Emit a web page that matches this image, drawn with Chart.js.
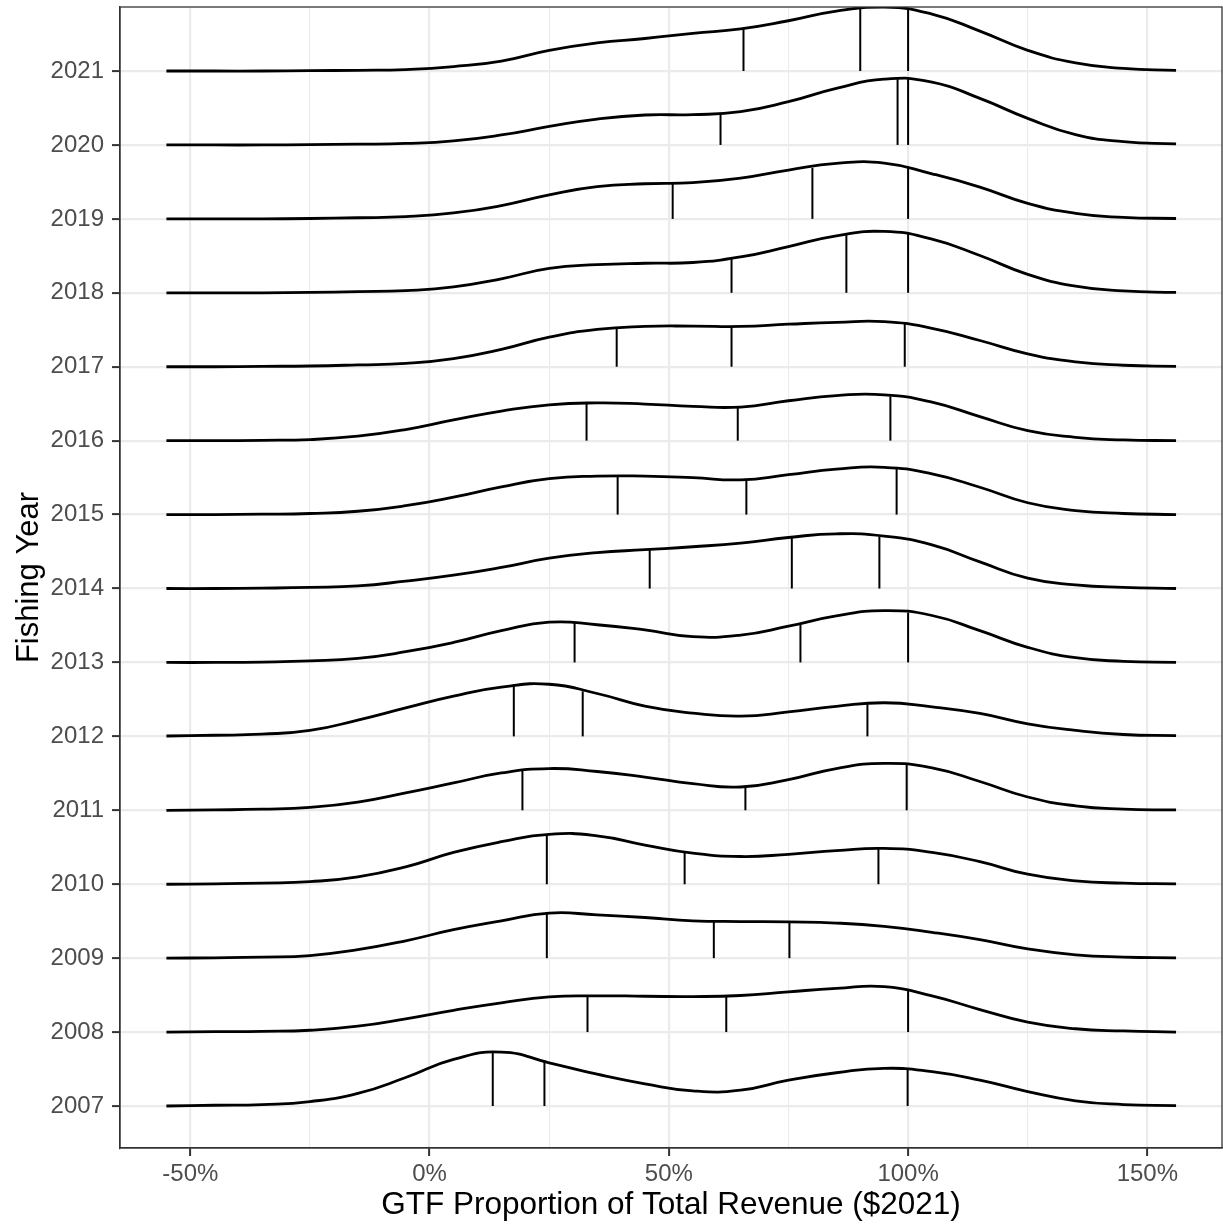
<!DOCTYPE html>
<html>
<head>
<meta charset="utf-8">
<script src="https://cdn.jsdelivr.net/npm/chart.js@4.4.1/dist/chart.umd.min.js"></script>
<style>
  body { margin: 0; background: #fff; }
</style>
</head>
<body>
<canvas id="myChart" width="1223" height="1224"></canvas>
<script>
// GTF share of total revenue, density ridges by fishing year
const years = [2007, 2008, 2009, 2010, 2011, 2012, 2013, 2014, 2015, 2016, 2017, 2018, 2019, 2020, 2021];

// x positions (%) where the density heights were read
const xs = [-55, -45, -35, -25, -15, -5, 5, 15, 25, 35, 45, 55, 65, 75, 85, 95, 105, 115, 125, 135, 145, 156];

// ridge heights (in year units) at the xs above
const r2007 = [0, .01, .02, .06, .17, .385, .63, .73, .585, .43, .3, .205, .215, .35, .45, .51, .465, .35, .195, .07, .02, .005];
const r2008 = [0, .005, .01, .025, .08, .18, .295, .395, .475, .49, .485, .48, .495, .545, .59, .615, .49, .305, .135, .045, .015, 0];
const r2009 = [0, .005, .015, .035, .115, .235, .385, .505, .61, .585, .55, .505, .495, .49, .475, .43, .35, .25, .125, .045, .015, .005];
const r2010 = [0, .005, .015, .035, .1, .235, .43, .575, .675, .655, .53, .42, .375, .405, .455, .485, .43, .305, .135, .045, .015, .005];
const r2011 = [0, .005, .015, .04, .11, .235, .37, .505, .565, .525, .45, .36, .315, .415, .565, .635, .575, .39, .18, .06, .015, .005];
const r2012 = [.005, .015, .03, .08, .22, .385, .545, .665, .705, .58, .41, .315, .275, .33, .405, .455, .4, .31, .17, .08, .025, .01];
const r2013 = [0, 0, .005, .02, .055, .145, .27, .43, .545, .51, .44, .35, .37, .49, .63, .7, .635, .43, .205, .065, .015, 0];
const r2014 = [0, 0, .005, .015, .035, .1, .18, .285, .41, .485, .525, .565, .615, .69, .74, .71, .59, .36, .14, .05, .015, 0];
const r2015 = [0, 0, .005, .015, .045, .12, .235, .375, .485, .52, .52, .5, .47, .54, .615, .64, .55, .37, .16, .055, .015, 0];
const r2016 = [0, 0, .005, .015, .06, .15, .28, .4, .485, .51, .495, .465, .455, .54, .61, .62, .52, .325, .135, .045, .01, 0];
const r2017 = [0, 0, .005, .01, .025, .045, .11, .235, .4, .505, .545, .55, .545, .575, .6, .61, .52, .355, .175, .065, .02, .005];
const r2018 = [0, 0, 0, .005, .015, .03, .08, .19, .33, .38, .4, .41, .485, .625, .77, .83, .725, .505, .25, .09, .025, .005];
const r2019 = [0, 0, 0, .005, .015, .03, .08, .18, .325, .435, .475, .49, .55, .66, .75, .755, .61, .43, .21, .075, .02, .005];
const r2020 = [0, 0, 0, .005, .01, .02, .055, .135, .25, .35, .405, .41, .45, .585, .765, .89, .85, .63, .36, .14, .045, .015];
const r2021 = [0, 0, 0, .005, .01, .02, .06, .135, .28, .38, .44, .51, .57, .68, .81, .865, .77, .54, .28, .11, .035, .01];

// quantile lines: x position (%) and height (year units)
const q2007 = [13.2, 24, 99.9],   qh2007 = [.735, .62, .505];
const q2008 = [33, 62, 100],      qh2008 = [.49, .495, .57];
const q2009 = [24.5, 59.4, 75.2], qh2009 = [.61, .49, .49];
const q2010 = [24.5, 53.3, 93.8], qh2010 = [.67, .435, .48];
const q2011 = [19.4, 66, 99.7],   qh2011 = [.54, .325, .63];
const q2012 = [17.6, 32, 91.5],   qh2012 = [.705, .61, .445];
const q2013 = [30.3, 77.5, 100],  qh2013 = [.54, .53, .675];
const q2014 = [46, 75.7, 94],     qh2014 = [.53, .69, .7];
const q2015 = [39.3, 66.2, 97.6], qh2015 = [.52, .465, .63];
const q2016 = [32.8, 64.4, 96.3], qh2016 = [.51, .445, .6];
const q2017 = [39.1, 63.1, 99.3], qh2017 = [.525, .545, .59];
const q2018 = [63.1, 87.1, 100],  qh2018 = [.465, .78, .805];
const q2019 = [50.8, 80, 100],    qh2019 = [.48, .69, .71];
const q2020 = [60.8, 97.8, 100],  qh2020 = [.405, .89, .89];
const q2021 = [65.6, 90, 100],    qh2021 = [.577, .86, .83];

const ridges = [r2007, r2008, r2009, r2010, r2011, r2012, r2013, r2014, r2015, r2016, r2017, r2018, r2019, r2020, r2021];
const qx = [q2007, q2008, q2009, q2010, q2011, q2012, q2013, q2014, q2015, q2016, q2017, q2018, q2019, q2020, q2021];
const qh = [qh2007, qh2008, qh2009, qh2010, qh2011, qh2012, qh2013, qh2014, qh2015, qh2016, qh2017, qh2018, qh2019, qh2020, qh2021];

let datasets = [];

for (let i = 0; i < years.length; i++) {
  const yr = years[i];
  datasets.push({
    data: xs.map((x, j) => ({ x: x, y: yr + ridges[i][j] })),
    borderColor: '#000',
    borderWidth: 2.8,
    pointRadius: 0,
    showLine: true,
    tension: 0.5
  });
  for (let k = 0; k < qx[i].length; k++) {
    datasets.push({
      data: [{ x: qx[i][k], y: yr }, { x: qx[i][k], y: yr + qh[i][k] }],
      borderColor: '#000',
      borderWidth: 2,
      pointRadius: 0,
      showLine: true
    });
  }
}

const panelBorder = {
  id: 'panelBorder',
  afterDatasetsDraw(chart) {
    const a = chart.chartArea;
    const c = chart.ctx;
    c.save();
    c.strokeStyle = '#333';
    c.lineWidth = 1.3;
    c.strokeRect(a.left, a.top, a.right - a.left, a.bottom - a.top);
    c.restore();
  }
};

// drop the label overhang padding so the panel fills the frame
function noPad(scale) {
  scale.paddingTop = 0;
  scale.paddingBottom = 0;
  scale.paddingLeft = 0;
  scale.paddingRight = 0;
}

Chart.defaults.font.family = '"Liberation Sans", Arial, sans-serif';

const ctx = document.getElementById('myChart');

new Chart(ctx, {
  type: 'scatter',
  data: { datasets: datasets },
  plugins: [panelBorder],
  options: {
    responsive: false,
    animation: false,
    layout: { padding: { top: 7, right: 1, left: 0, bottom: 0 } },
    plugins: {
      legend: { display: false },
      tooltip: { enabled: false }
    },
    scales: {
      x: {
        type: 'linear',
        min: -64.7,
        max: 165.6,
        afterFit(scale) { scale.height = 76; noPad(scale); },
        ticks: {
          stepSize: 25,
          includeBounds: false,
          autoSkip: false,
          maxRotation: 0,
          color: '#4D4D4D',
          font: { size: 24 },
          padding: 4,
          callback: v => (v % 50 === 0 ? v + '%' : '')
        },
        grid: {
          color: '#EBEBEB',
          lineWidth: c => (c.tick && c.tick.value % 50 === 0 ? 2.2 : 1.1),
          tickLength: 8,
          tickWidth: 2,
          tickColor: c => (c.tick && c.tick.value % 50 === 0 ? '#333' : 'rgba(0,0,0,0)')
        },
        border: { display: true, color: '#333', width: 1.3 },
        title: {
          display: true,
          text: 'GTF Proportion of Total Revenue ($2021)',
          color: '#000',
          font: { size: 31.5 },
          padding: { top: 0, bottom: 0 }
        }
      },
      y: {
        type: 'linear',
        min: 2006.432,
        max: 2021.866,
        afterFit(scale) { scale.width = 120; noPad(scale); },
        ticks: {
          stepSize: 1,
          includeBounds: false,
          autoSkip: false,
          color: '#4D4D4D',
          font: { size: 24 },
          padding: 8,
          callback: v => String(v)
        },
        grid: {
          color: '#EBEBEB',
          lineWidth: 2.2,
          tickLength: 8,
          tickWidth: 2,
          tickColor: '#333'
        },
        border: { display: true, color: '#333', width: 1.3 },
        title: {
          display: true,
          text: 'Fishing Year',
          color: '#000',
          font: { size: 31 },
          padding: { top: 11, bottom: 0 }
        }
      }
    }
  }
});
</script>
</body>
</html>
